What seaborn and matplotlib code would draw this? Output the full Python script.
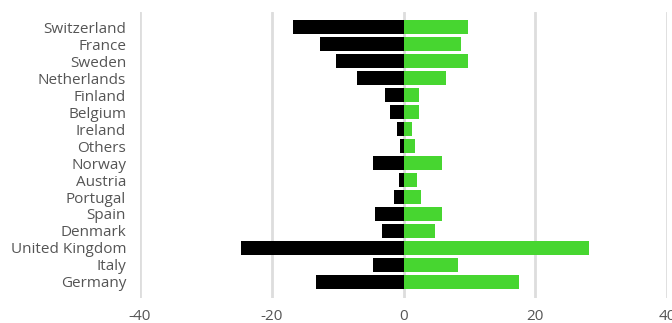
import pandas as pd
import matplotlib.pyplot as plt
import seaborn as sns

countries = ["Switzerland", "France", "Sweden", "Netherlands", "Finland", "Belgium",
             "Ireland", "Others", "Norway", "Austria", "Portugal", "Spain", "Denmark",
             "United Kingdom", "Italy", "Germany"]
negative = [-16.8, -12.7, -10.3, -7.0, -2.8, -2.1, -1.0, -0.6, -4.6, -0.7, -1.4, -4.3,
            -3.2, -24.7, -4.7, -13.3]
positive = [9.8, 8.8, 9.8, 6.5, 2.3, 2.3, 1.3, 1.7, 5.8, 2.1, 2.7, 5.9, 4.8, 28.1, 8.3, 17.6]
x_ticks = [-40, -20, 0, 20, 40]

df = pd.DataFrame({"country": countries, "neg": negative, "pos": positive})

sns.set_style("white")
plt.rcParams["font.family"] = ["Open Sans", "DejaVu Sans"]
plt.rcParams["axes.unicode_minus"] = False

fig = plt.figure(figsize=(6.72, 3.23), dpi=100)
ax = fig.add_axes([140 / 672, 25 / 323, 527 / 672, 286 / 323])

# black = negative side, green = positive side
sns.barplot(data=df, x="neg", y="country", orient="h", color="#000000",
            width=0.8, linewidth=0, saturation=1, ax=ax, zorder=3)
sns.barplot(data=df, x="pos", y="country", orient="h", color="#47d630",
            width=0.8, linewidth=0, saturation=1, ax=ax, zorder=3)

ax.set_xlim(-40, 40)
ax.set_ylim(15.95, -0.9)
ax.set_xticks(x_ticks)
ax.xaxis.grid(True, color="#dddddd", linewidth=2, zorder=0)
ax.set_axisbelow(True)
for s in ax.spines.values():
    s.set_visible(False)
ax.set_xlabel("")
ax.set_ylabel("")
ax.tick_params(axis="both", length=0, labelsize=11, labelcolor="#555555")
ax.tick_params(axis="x", pad=8)
ax.tick_params(axis="y", pad=10)

fig.savefig("out.png", dpi=100)
